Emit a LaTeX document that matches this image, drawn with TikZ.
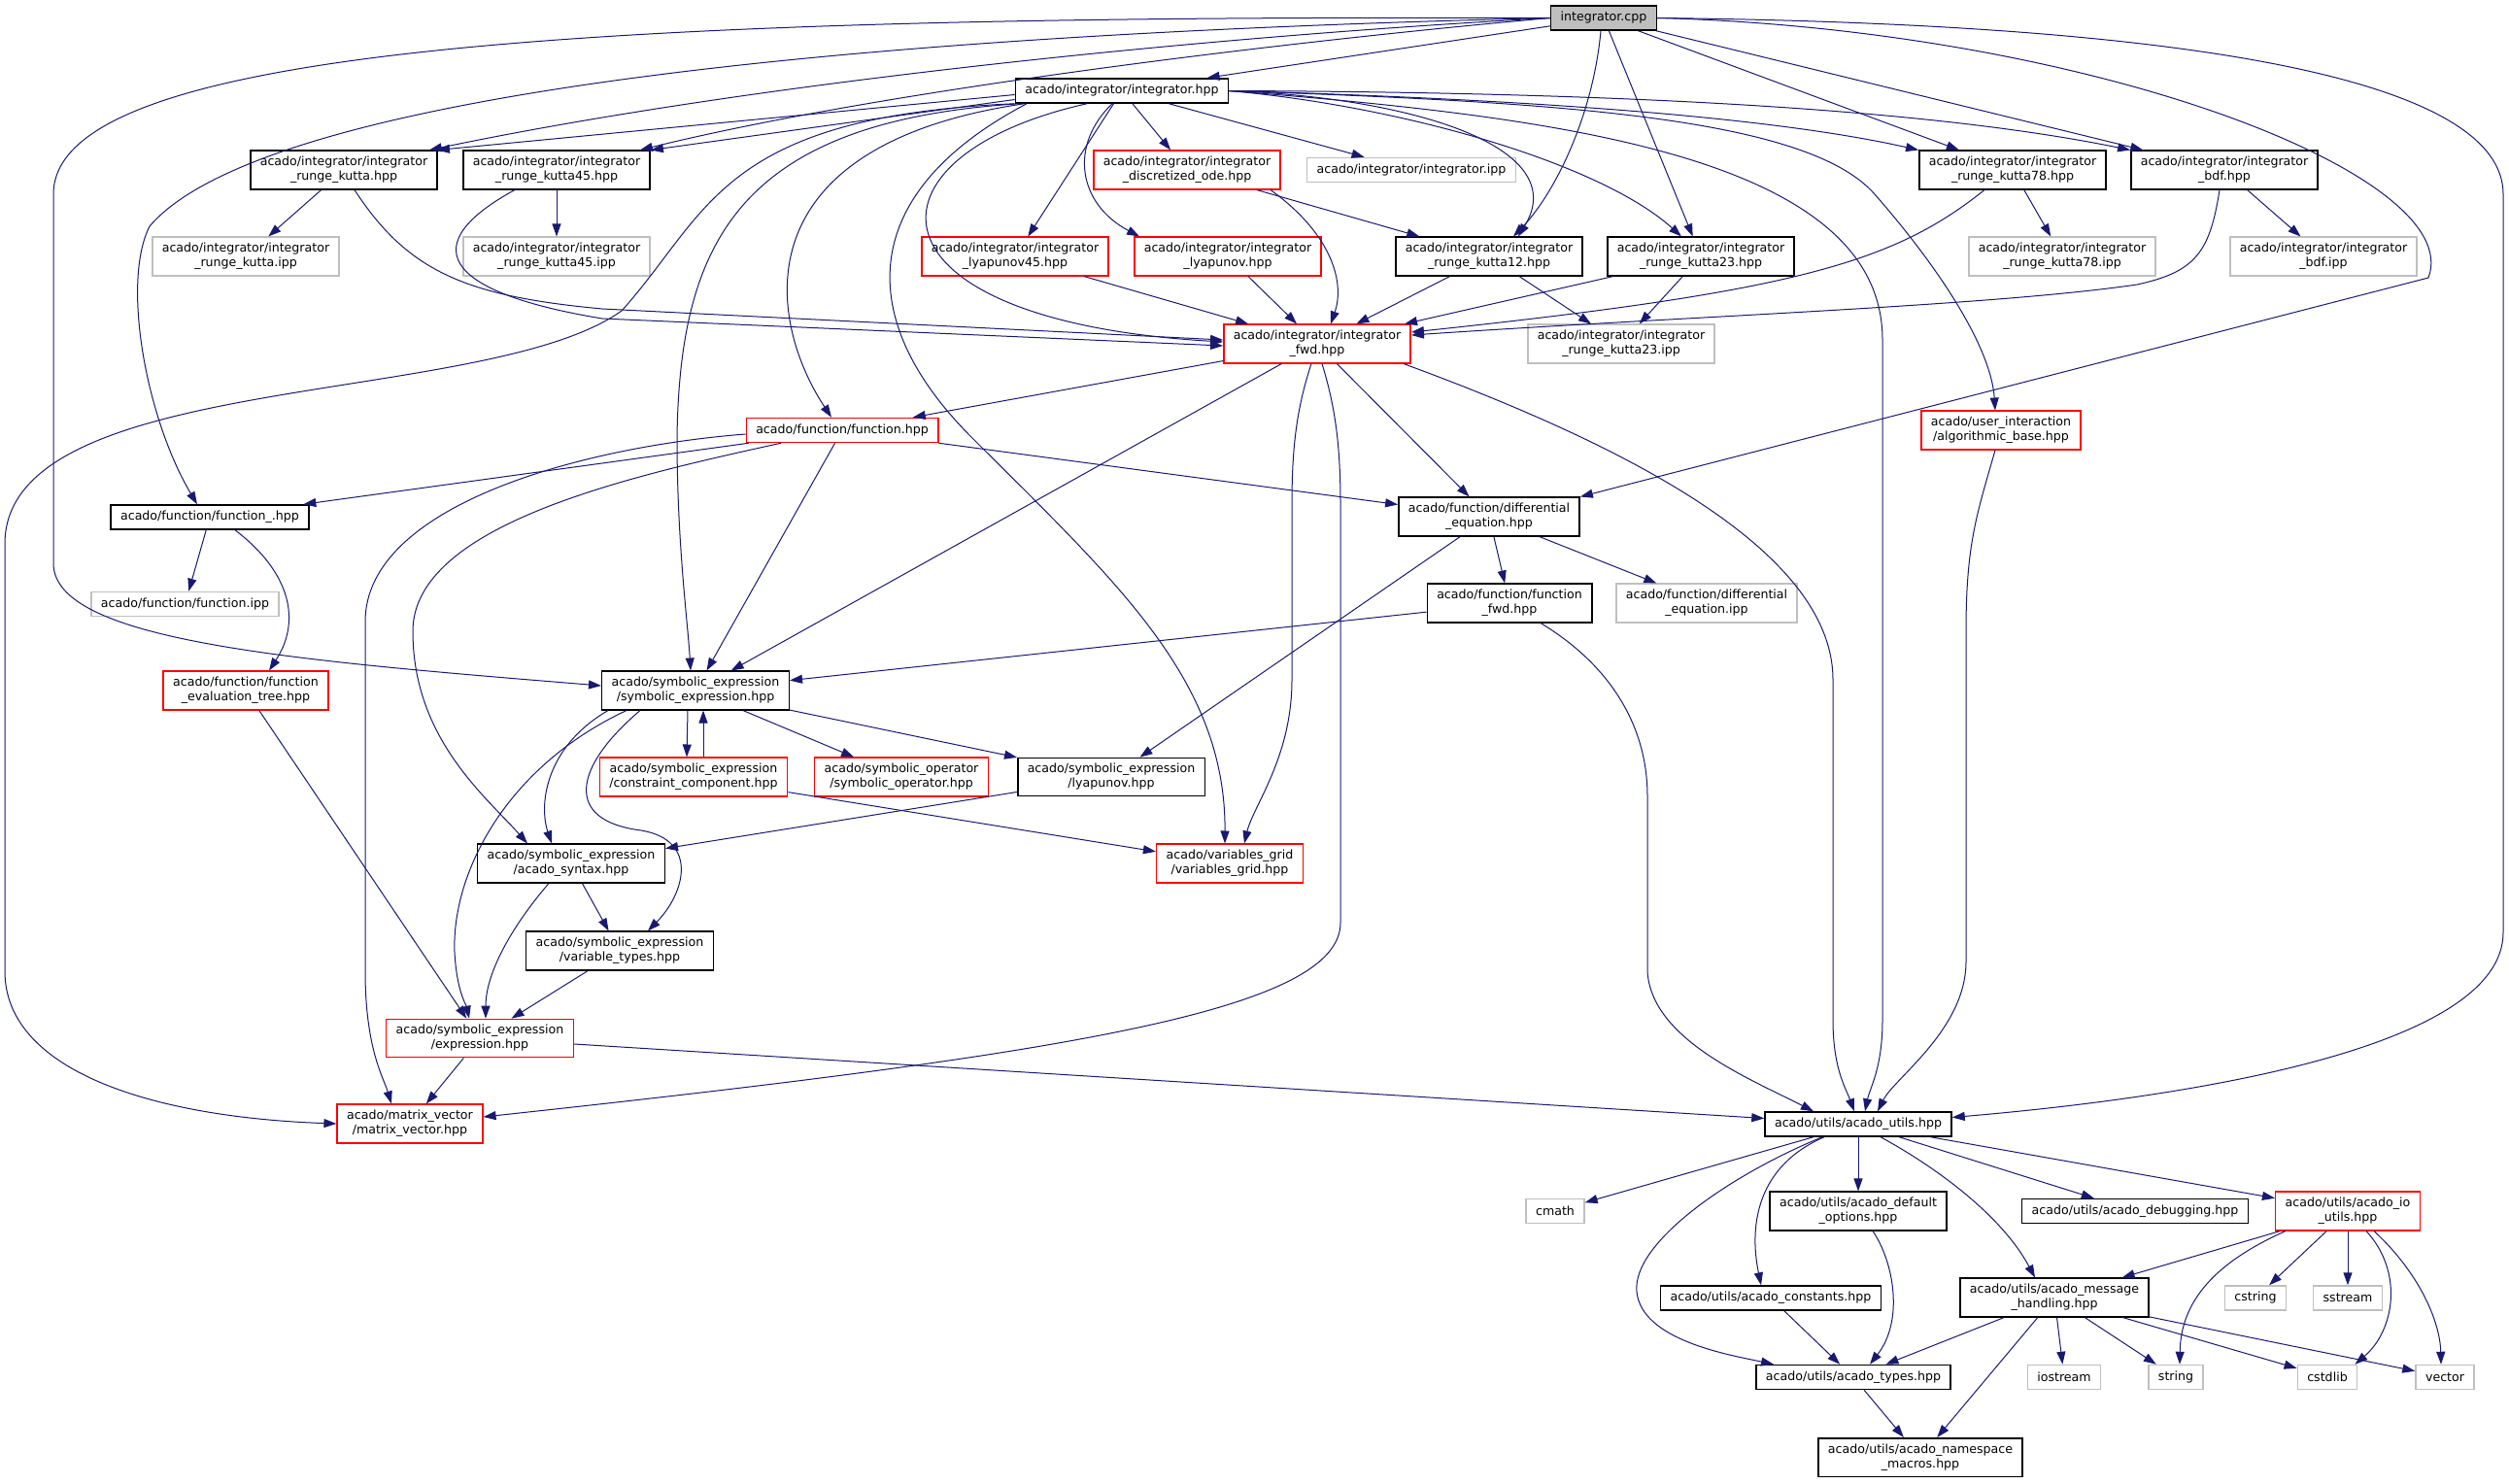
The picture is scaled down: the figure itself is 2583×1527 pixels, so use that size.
\documentclass[tikz,border=0pt]{standalone}
\usepackage{fontspec}
\setmainfont{DejaVu Sans}
\usetikzlibrary{arrows.meta}
\definecolor{edgeblue}{RGB}{25,25,112}
\definecolor{boxgray}{RGB}{191,191,191}
\tikzset{
  file/.style={draw=black, line width=1.5pt, fill=white, align=center, inner xsep=10pt, inner ysep=6pt,
    minimum height=25pt, font=\fontsize{12.6}{15}\selectfont},
  redfile/.style={file, draw=red},
  sysfile/.style={file, draw=boxgray},
  rootfile/.style={file, fill=boxgray},
  inc/.style={draw=edgeblue, line width=1pt, -{Triangle[length=13pt,width=9pt]}}
}
\begin{document}
\begin{tikzpicture}[x=1pt,y=-1pt]
\useasboundingbox (0,0) rectangle (2583,1527);

\node[rootfile] (cpp) at (1651,18.5) {integrator.cpp};
\node[file] (ihpp) at (1155,93.5) {acado/integrator/integrator.hpp};
\node[file] (rk) at (354,175) {acado/integrator/integrator\\\_runge\_kutta.hpp};
\node[file] (rkff) at (573,175) {acado/integrator/integrator\\\_runge\_kutta45.hpp};
\node[redfile] (dode) at (1222,175) {acado/integrator/integrator\\\_discretized\_ode.hpp};
\node[sysfile] (iipp) at (1453,175) {acado/integrator/integrator.ipp};
\node[file] (rkse) at (2072,175) {acado/integrator/integrator\\\_runge\_kutta78.hpp};
\node[file] (bdf) at (2290,175) {acado/integrator/integrator\\\_bdf.hpp};
\node[sysfile] (rkipp) at (253,264) {acado/integrator/integrator\\\_runge\_kutta.ipp};
\node[sysfile] (rkffipp) at (573,264) {acado/integrator/integrator\\\_runge\_kutta45.ipp};
\node[redfile] (lyff) at (1045,264) {acado/integrator/integrator\\\_lyapunov45.hpp};
\node[redfile] (lyap) at (1264,264) {acado/integrator/integrator\\\_lyapunov.hpp};
\node[file] (rkot) at (1533,264) {acado/integrator/integrator\\\_runge\_kutta12.hpp};
\node[file] (rktt) at (1751,264) {acado/integrator/integrator\\\_runge\_kutta23.hpp};
\node[sysfile] (rkseipp) at (2123,264) {acado/integrator/integrator\\\_runge\_kutta78.ipp};
\node[sysfile] (bdfipp) at (2392,264) {acado/integrator/integrator\\\_bdf.ipp};
\node[redfile] (fwd) at (1356,354) {acado/integrator/integrator\\\_fwd.hpp};
\node[sysfile] (rkttipp) at (1669,354) {acado/integrator/integrator\\\_runge\_kutta23.ipp};
\node[redfile] (func) at (867,443) {acado/function/function.hpp};
\node[redfile] (algo) at (2060,443) {acado/user\_interaction\\/algorithmic\_base.hpp};
\node[file] (funcu) at (216,532.5) {acado/function/function\_.hpp};
\node[file] (diffeq) at (1533,532) {acado/function/differential\\\_equation.hpp};
\node[sysfile] (funcipp) at (190.5,622) {acado/function/function.ipp};
\node[file] (funcfwd) at (1554,621) {acado/function/function\\\_fwd.hpp};
\node[sysfile] (diffipp) at (1757,621) {acado/function/differential\\\_equation.ipp};
\node[redfile] (evtree) at (253,711) {acado/function/function\\\_evaluation\_tree.hpp};
\node[file] (symexpr) at (716,711) {acado/symbolic\_expression\\/symbolic\_expression.hpp};
\node[redfile] (constr) at (714,800) {acado/symbolic\_expression\\/constraint\_component.hpp};
\node[redfile] (symop) at (928,800) {acado/symbolic\_operator\\/symbolic\_operator.hpp};
\node[file] (slyap) at (1144,800) {acado/symbolic\_expression\\/lyapunov.hpp};
\node[file] (syntax) at (588,889) {acado/symbolic\_expression\\/acado\_syntax.hpp};
\node[redfile] (vgrid) at (1266,889) {acado/variables\_grid\\/variables\_grid.hpp};
\node[file] (vtypes) at (638,979) {acado/symbolic\_expression\\/variable\_types.hpp};
\node[redfile] (expr) at (494,1069) {acado/symbolic\_expression\\/expression.hpp};
\node[redfile] (matvec) at (422,1157) {acado/matrix\_vector\\/matrix\_vector.hpp};
\node[file] (utils) at (1913,1157.5) {acado/utils/acado\_utils.hpp};
\node[sysfile] (cmath) at (1601,1247) {cmath};
\node[file] (defopt) at (1913,1247) {acado/utils/acado\_default\\\_options.hpp};
\node[file] (debug) at (2198,1247) {acado/utils/acado\_debugging.hpp};
\node[redfile] (ioutils) at (2417,1247) {acado/utils/acado\_io\\\_utils.hpp};
\node[file] (consts) at (1823,1336.5) {acado/utils/acado\_constants.hpp};
\node[file] (msg) at (2115,1336) {acado/utils/acado\_message\\\_handling.hpp};
\node[sysfile] (cstring) at (2322,1336.5) {cstring};
\node[sysfile] (sstream) at (2417,1336.5) {sstream};
\node[file] (types) at (1908,1418) {acado/utils/acado\_types.hpp};
\node[sysfile] (iostream) at (2125,1418) {iostream};
\node[sysfile] (string) at (2240,1418) {string};
\node[sysfile] (cstdlib) at (2396,1418) {cstdlib};
\node[sysfile] (vector) at (2517,1418) {vector};
\node[file] (nsmacros) at (1977,1500.5) {acado/utils/acado\_namespace\\\_macros.hpp};

\draw[inc] (cpp) -- (ihpp);
\draw[inc] (cpp.west) .. controls (1200,40) and (750,90) .. ([xshift=-9pt]rk.north east);
\draw[inc] (cpp.west) .. controls (1300,45) and (900,95) .. ([xshift=-11pt]rkff.north east);
\draw[inc] (cpp.west) .. controls (700,40) and (250,120) .. (154,233) .. controls (125,290) and (150,430) .. ([xshift=-13pt]funcu.north);
\draw[inc] (cpp.west) .. controls (600,15) and (55,50) .. (55,200) -- (55,580) .. controls (55,660) and (300,680) .. ([yshift=5pt]symexpr.west);
\draw[inc] ([xshift=-3pt]cpp.south) .. controls (1640,120) and (1600,200) .. ([xshift=25pt]rkot.north);
\draw[inc] (cpp) -- (rktt);
\draw[inc] (cpp) -- (rkse);
\draw[inc] (cpp) -- (bdf);
\draw[inc] (cpp.east) .. controls (2150,30) and (2540,180) .. (2500,286) -- (diffeq.north east);
\draw[inc] (cpp.east) .. controls (2300,25) and (2577,90) .. (2577,200) -- (2577,960) .. controls (2577,1080) and (2250,1130) .. ([yshift=7pt]utils.east);

\draw[inc] ([yshift=-4pt]ihpp.west) -- ([xshift=-1pt]rk.north east);
\draw[inc] ([yshift=-9pt]ihpp.west) -- (rkff.north east);
\draw[inc] (ihpp) -- (dode);
\draw[inc] (ihpp) -- (iipp);
\draw[inc] (ihpp) -- (lyff);
\draw[inc] ([xshift=-10pt]ihpp.south) .. controls (1100,150) and (1110,210) .. ([xshift=6pt]lyap.north west);
\draw[inc] (ihpp.east) .. controls (1450,100) and (1620,150) .. ([xshift=30pt]rkot.north);
\draw[inc] (ihpp.east) .. controls (1450,110) and (1650,170) .. ([xshift=-20pt]rktt.north);
\draw[inc] (ihpp.east) .. controls (1500,100) and (1800,115) .. (rkse.north west);
\draw[inc] (ihpp.east) .. controls (1700,95) and (2000,115) .. (bdf.north west);
\draw[inc] (ihpp.east) .. controls (1600,105) and (1860,120) .. (1930,200) .. controls (2000,280) and (2050,360) .. ([xshift=-6pt]algo.north);
\draw[inc] (ihpp.east) .. controls (1600,120) and (1938,160) .. (1938,350) -- (1938,1050) .. controls (1938,1100) and (1925,1120) .. ([xshift=7pt]utils.north);
\draw[inc] ([xshift=-36pt]ihpp.south) .. controls (880,160) and (880,330) .. ([yshift=2pt]fwd.west);
\draw[inc] ([xshift=-98pt]ihpp.south) .. controls (880,200) and (880,330) .. (1000,450) .. controls (1150,600) and (1262,700) .. ([xshift=-5pt]vgrid.north);
\draw[inc] ([xshift=5pt]ihpp.south west) .. controls (760,125) and (700,250) .. (697,450) .. controls (697,560) and (708,640) .. ([xshift=-5pt]symexpr.north);
\draw[inc] ([xshift=10pt]ihpp.south west) .. controls (760,150) and (790,330) .. ([xshift=-11pt]func.north);
\draw[inc] (ihpp.south west) .. controls (740,120) and (730,220) .. (640,320) .. controls (500,420) and (5,380) .. (5,560) -- (5,1000) .. controls (5,1100) and (150,1150) .. (matvec.west);

\draw[inc] (rk) -- (rkipp);
\draw[inc] ([xshift=11pt]rk.south) .. controls (420,280) and (480,305) .. (620,318) -- ([yshift=4pt]fwd.west);
\draw[inc] (rkff) -- (rkffipp);
\draw[inc] ([xshift=-43pt]rkff.south) .. controls (430,250) and (450,300) .. (620,328) -- ([yshift=-2pt]fwd.west);
\draw[inc] (dode) -- (rkot);
\draw[inc] ([xshift=86pt]dode.south) .. controls (1370,240) and (1385,290) .. ([xshift=14pt]fwd.north);
\draw[inc] (lyff) -- (fwd);
\draw[inc] (lyap) -- (fwd);
\draw[inc] (rkot) -- (fwd);
\draw[inc] (rkot) -- (rkttipp);
\draw[inc] (rktt) -- (fwd);
\draw[inc] (rktt) -- (rkttipp);
\draw[inc] (rkse) -- (rkseipp);
\draw[inc] ([xshift=-29pt]rkse.south) .. controls (1950,270) and (1850,300) .. ([yshift=12pt]fwd.east);
\draw[inc] (bdf) -- (bdfipp);
\draw[inc] ([xshift=-5pt]bdf.south) .. controls (2275,260) and (2260,280) .. (2200,293) .. controls (2050,315) and (1750,325) .. ([yshift=9pt]fwd.east);

\draw[inc] (fwd) -- (func);
\draw[inc] (fwd) -- (symexpr);
\draw[inc] ([xshift=5pt]fwd.south) .. controls (1375,420) and (1380,460) .. (1380,520) -- (1380,950) .. controls (1380,1040) and (1100,1085) .. ([yshift=7pt]matvec.east);
\draw[inc] ([xshift=-6pt]fwd.south) .. controls (1335,420) and (1330,460) .. (1330,520) -- (1330,700) .. controls (1330,780) and (1290,830) .. ([xshift=15pt]vgrid.north);
\draw[inc] (fwd) -- (diffeq);
\draw[inc] ([xshift=-8pt]fwd.south east) .. controls (1650,450) and (1887,560) .. (1887,700) -- (1887,1050) .. controls (1887,1100) and (1900,1120) .. ([xshift=-4pt]utils.north);

\draw[inc] (func) -- (funcu);
\draw[inc] (func) -- (diffeq);
\draw[inc] (func) -- (symexpr);
\draw[inc] ([xshift=-63pt]func.south) .. controls (650,490) and (425,540) .. (425,650) .. controls (425,760) and (500,820) .. ([xshift=-45pt]syntax.north);
\draw[inc] ([yshift=-4pt]func.west) .. controls (600,460) and (376,520) .. (376,640) -- (376,1000) .. controls (376,1080) and (395,1110) .. ([xshift=-19pt]matvec.north);
\draw[inc] (funcu) -- (funcipp);
\draw[inc] ([xshift=26pt]funcu.south) .. controls (300,590) and (310,640) .. ([xshift=24pt]evtree.north);
\draw[inc] (evtree) -- (expr);

\draw[inc] (diffeq) -- (funcfwd);
\draw[inc] (diffeq) -- (diffipp);
\draw[inc] (diffeq) -- (slyap);
\draw[inc] (funcfwd) -- (symexpr);
\draw[inc] ([xshift=32pt]funcfwd.south) .. controls (1650,680) and (1696,740) .. (1696,820) -- (1696,1000) .. controls (1700,1070) and (1800,1110) .. ([xshift=-46pt]utils.north);

\draw[inc] ([xshift=-8pt]symexpr.south) -- ([xshift=-7pt]constr.north);
\draw[inc] ([xshift=10pt]constr.north) -- ([xshift=8pt]symexpr.south);
\draw[inc] (symexpr) -- (symop);
\draw[inc] (symexpr) -- (slyap);
\draw[inc] ([xshift=-90pt]symexpr.south) .. controls (560,770) and (555,830) .. ([xshift=-20pt]syntax.north);
\draw[inc] ([xshift=-57pt]symexpr.south) .. controls (590,790) and (580,845) .. (660,855) .. controls (720,865) and (705,920) .. ([xshift=29pt]vtypes.north);
\draw[inc] ([xshift=-71pt]symexpr.south) .. controls (520,790) and (465,900) .. (468,980) .. controls (470,1020) and (480,1035) .. ([xshift=-11pt]expr.north);
\draw[inc] (constr) -- (vgrid);
\draw[inc] (slyap) -- (syntax);
\draw[inc] (syntax) -- (vtypes);
\draw[inc] ([xshift=-23pt]syntax.south) .. controls (530,950) and (500,1000) .. ([xshift=6pt]expr.north);
\draw[inc] (vtypes) -- (expr);
\draw[inc] (expr) -- (matvec);
\draw[inc] (expr) -- (utils);

\draw[inc] ([xshift=-6pt]algo.south) .. controls (2035,530) and (2024,560) .. (2024,650) -- (2024,990) .. controls (2024,1060) and (1950,1110) .. ([xshift=20pt]utils.north);

\draw[inc] (utils) -- (cmath);
\draw[inc] (utils) -- (defopt);
\draw[inc] ([xshift=-35pt]utils.south) .. controls (1810,1200) and (1800,1260) .. ([xshift=-10pt]consts.north);
\draw[inc] ([xshift=-37pt]utils.south) .. controls (1780,1210) and (1680,1280) .. (1685,1330) .. controls (1690,1380) and (1780,1395) .. ([xshift=-82pt]types.north);
\draw[inc] ([xshift=23pt]utils.south) .. controls (1990,1200) and (2060,1250) .. ([xshift=-20pt]msg.north);
\draw[inc] (utils) -- (debug);
\draw[inc] (utils) -- (ioutils);
\draw[inc] ([xshift=15pt]defopt.south) .. controls (1950,1300) and (1960,1360) .. ([xshift=17pt]types.north);
\draw[inc] (consts) -- (types);
\draw[inc] (msg) -- (types);
\draw[inc] (msg) -- (nsmacros);
\draw[inc] (msg) -- (iostream);
\draw[inc] (msg) -- (string);
\draw[inc] (msg) -- (cstdlib);
\draw[inc] (msg) -- (vector);
\draw[inc] (types) -- (nsmacros);
\draw[inc] (ioutils) -- (msg);
\draw[inc] (ioutils) -- (cstring);
\draw[inc] (ioutils) -- (sstream);
\draw[inc] ([xshift=-64pt]ioutils.south) .. controls (2280,1300) and (2245,1340) .. ([xshift=4pt]string.north);
\draw[inc] ([xshift=19pt]ioutils.south) .. controls (2475,1310) and (2465,1370) .. ([xshift=-3pt]cstdlib.north east);
\draw[inc] ([xshift=27pt]ioutils.south) .. controls (2490,1310) and (2512,1360) .. ([xshift=-4pt]vector.north);
\end{tikzpicture}
\end{document}
